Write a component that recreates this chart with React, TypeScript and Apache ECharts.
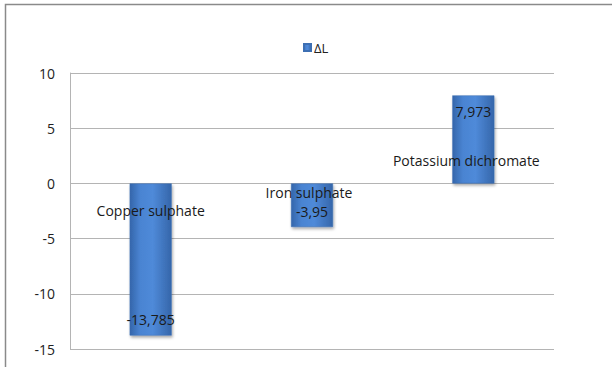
import React, { useEffect, useRef } from "react";
import * as echarts from "echarts";

// ΔL per compound
const categories = ["Copper sulphate", "Iron sulphate", "Potassium dichromate"];
const deltaL = [-13.785, -3.95, 7.973];
const seriesName = "ΔL";
const yTicks = { min: -15, max: 10, interval: 5 };

// offsets (px) of the compound-name labels: horizontal from the bar centre,
// vertical from the zero line
const nameLabelDx = [0, -3, -7];
const nameLabelDy = [27, 9, -23];
// distance (px) of the value label centre from the bar end
const valueInset = 16;

const FONT = "'Open Sans', 'Liberation Sans', sans-serif";

const fmt = (v: number) => String(v).replace(".", ",");

export default function App() {
  const ref = useRef<HTMLDivElement>(null);

  useEffect(() => {
    if (!ref.current) return;
    const chart = echarts.init(ref.current, null, { renderer: "svg" });

    const barFill = new echarts.graphic.LinearGradient(0, 0, 1, 0, [
      { offset: 0, color: "#3466ab" },
      { offset: 0.25, color: "#4a84d2" },
      { offset: 0.55, color: "#4f8ad9" },
      { offset: 1, color: "#3566aa" },
    ]);

    chart.setOption({
      animation: false,
      backgroundColor: "#ffffff",
      textStyle: { fontFamily: FONT },
      graphic: [
        {
          type: "rect",
          shape: { x: 5.5, y: 4.5, width: 700, height: 500 },
          style: { fill: "none", stroke: "#8a8a8a", lineWidth: 1.5 },
          silent: true,
          z: -1,
        },
      ],
      legend: {
        data: [{ name: seriesName, icon: "rect" }],
        left: 298,
        top: 36,
        itemWidth: 7,
        itemHeight: 7,
        itemGap: 4,
        textStyle: { fontFamily: FONT, fontSize: 13, color: "#222", padding: [0, 0, 0, -2] },
      },
      grid: { left: 70, right: 58, top: 73, bottom: 18, containLabel: false },
      xAxis: {
        type: "category",
        data: categories,
        axisLine: { show: false },
        axisTick: { show: false },
        axisLabel: { show: false },
      },
      yAxis: {
        type: "value",
        min: yTicks.min,
        max: yTicks.max,
        interval: yTicks.interval,
        axisLine: { show: true, lineStyle: { color: "#b4b4b4", width: 1 } },
        axisTick: { show: false },
        axisLabel: {
          fontFamily: FONT,
          fontSize: 14,
          color: "#222",
          margin: 15,
        },
        splitLine: { lineStyle: { color: "#b4b4b4", width: 1 } },
      },
      series: [
        {
          name: seriesName,
          type: "bar",
          data: deltaL,
          barWidth: 42,
          z: 3,
          itemStyle: {
            color: barFill,
            borderColor: "#3d6fb3",
            borderWidth: 0.5,
            shadowBlur: 3,
            shadowColor: "rgba(0,0,0,0.35)",
            shadowOffsetX: 1,
            shadowOffsetY: 2,
          },
          label: {
            show: true,
            position: "inside",
            fontFamily: FONT,
            fontSize: 14,
            color: "#1a1a1a",
            formatter: (p: any) => fmt(p.value),
          },
          labelLayout: (p: any) => {
            const r = p.rect;
            const neg = deltaL[p.dataIndex] < 0;
            return {
              x: r.x + r.width / 2,
              y: neg ? r.y + r.height - valueInset : r.y + valueInset,
              align: "center",
              verticalAlign: "middle",
            };
          },
        },
        {
          name: "names",
          type: "bar",
          data: deltaL,
          barWidth: 42,
          barGap: "-100%",
          silent: true,
          z: 4,
          itemStyle: { color: "rgba(0,0,0,0)" },
          label: {
            show: true,
            position: "inside",
            fontFamily: FONT,
            fontSize: 14,
            color: "#1a1a1a",
            formatter: (p: any) => p.name,
          },
          labelLayout: (p: any) => {
            const r = p.rect;
            const neg = deltaL[p.dataIndex] < 0;
            const zeroY = neg ? r.y : r.y + r.height;
            return {
              x: r.x + r.width / 2 + nameLabelDx[p.dataIndex],
              y: zeroY + nameLabelDy[p.dataIndex],
              align: "center",
              verticalAlign: "middle",
            };
          },
        },
      ],
    });

    return () => chart.dispose();
  }, []);

  return (
    <div
      ref={ref}
      style={{ position: "fixed", left: 0, top: 0, width: 612, height: 367 }}
    />
  );
}
